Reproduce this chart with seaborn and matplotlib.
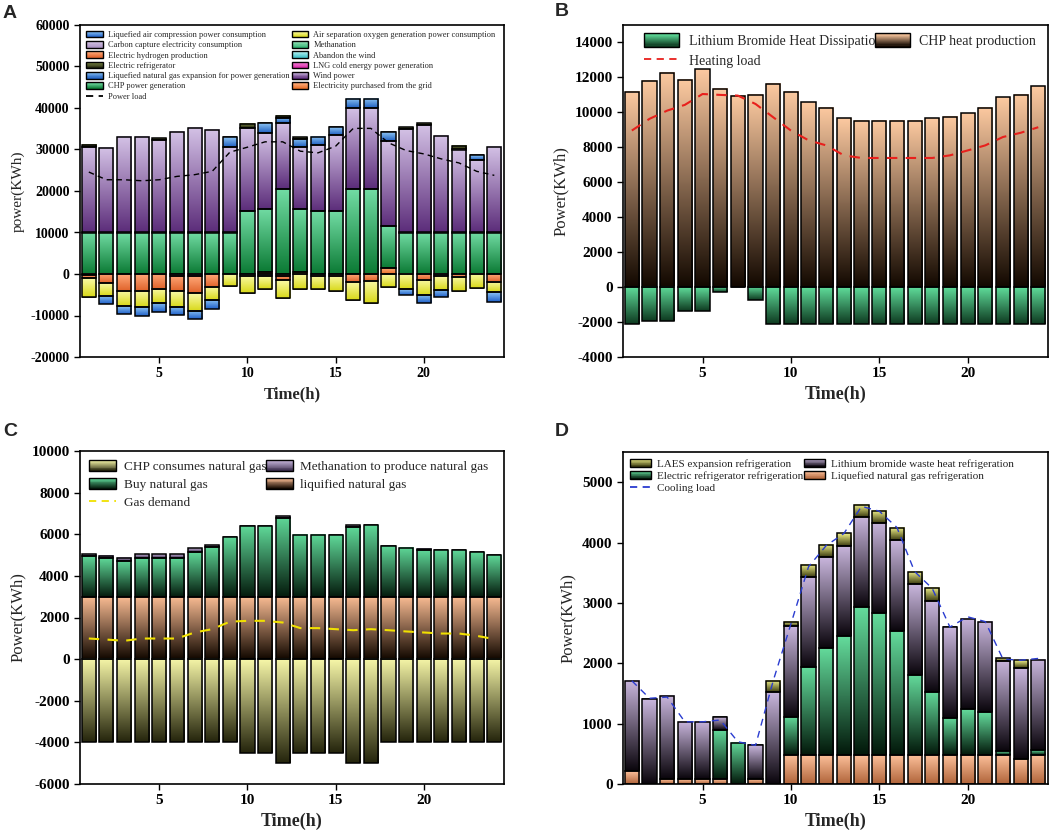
import numpy as np
import matplotlib
matplotlib.use("Agg")
import matplotlib.pyplot as plt
from matplotlib.colors import LinearSegmentedColormap, to_rgb
from matplotlib.patches import Patch, Rectangle
from matplotlib.lines import Line2D
from matplotlib.legend_handler import HandlerBase
import seaborn as sns

hours = np.arange(1, 25)

# ---------- A: electric power balance (kWh) ----------
# positive side, stacked upward
grid_buy = [0, 0, 0, 0, 0, 0, 0, 0, 0, 0, 500, 0, 500, 0, 0, 0, 0, 1500, 0, 0, 0, 0, 0, 0]
chp_power = [10000, 10000, 10000, 10000, 10000, 10000, 10000, 10000, 10000, 15100, 15200, 20400,
             15200, 15100, 15100, 20400, 20400, 10000, 10000, 10000, 10000, 10000, 10000, 10000]
wind_power = [20500, 20300, 22900, 22900, 22300, 24300, 25200, 24600, 20700, 20000, 18200, 15900,
              15000, 16050, 18400, 19650, 19650, 20600, 24950, 26000, 23170, 20000, 17400, 20700]
lng_expansion = [0, 0, 0, 0, 0, 0, 0, 0, 2200, 0, 2400, 1300, 1950, 1950, 1850, 2180, 2180, 2000,
                 0, 0, 0, 0, 1200, 0]
refrigerator = [500, 0, 0, 0, 400, 0, 0, 0, 0, 1100, 0, 500, 400, 0, 0, 0, 0, 0, 400, 300, 0, 900, 0, 0]
# negative side (consumption magnitudes), stacked downward
carbon_capture = [300, 0, 0, 0, 0, 400, 600, 0, 0, 400, 400, 400, 0, 400, 400, 0, 0, 0, 0, 0, 600, 0, 0, 0]
hydrogen = [700, 2260, 4030, 4030, 3710, 3700, 4000, 3060, 0, 0, 0, 1000, 0, 0, 0, 1850, 1700, 0,
            0, 1450, 0, 650, 0, 1850]
air_separation = [4500, 2980, 3630, 4030, 3390, 3800, 4300, 3230, 2820, 4280, 3100, 4300, 3700, 3300,
                  3700, 4440, 5400, 3060, 3710, 3630, 3300, 3460, 3470, 2590]
air_compression = [0, 2100, 1860, 2100, 2170, 2020, 1940, 2260, 0, 0, 0, 0, 0, 0, 0, 0, 0, 0,
                   1370, 2020, 1750, 0, 0, 2250]
methanation = [0] * 24
abandon_wind = [0] * 24
lng_cold = [0] * 24
power_load = [24570, 22710, 22710, 22470, 22710, 23520, 23930, 24740, 29350, 30560, 31850, 31850,
              29590, 29190, 30800, 35090, 35090, 31610, 29750, 28940, 27730, 26760, 24740, 23770]

# ---------- B: heat balance ----------
chp_heat = [11190, 11800, 12250, 11870, 12460, 11340, 10940, 11000, 11620, 11190, 10580, 10270,
            9670, 9510, 9510, 9510, 9510, 9670, 9740, 9950, 10270, 10860, 11010, 11490]
libr_heat = [2090, 1960, 1960, 1350, 1350, 280, 0, 760, 2090, 2090, 2090, 2090, 2090, 2090, 2090,
             2090, 2090, 2090, 2090, 2090, 2090, 2090, 2090, 2090]
heating_load = [8960, 9630, 10100, 10430, 11050, 11000, 10960, 10480, 9720, 8960, 8400, 8110,
                7540, 7390, 7390, 7390, 7390, 7390, 7540, 7820, 8110, 8590, 8830, 9150]

# ---------- C: gas balance ----------
chp_gas = [4000] * 9 + [4500, 4500, 5000, 4500, 4500, 4500, 5000, 5000] + [4000] * 7
lng_gas = [3000] * 24
buy_gas = [1960, 1860, 1730, 1860, 1860, 1860, 2150, 2410, 2870, 3380, 3380, 3800, 2980, 2980,
           2940, 3350, 3430, 2420, 2360, 2240, 2230, 2230, 2150, 1980]
meth_gas = [80, 100, 150, 180, 180, 180, 180, 80, 0, 0, 0, 80, 0, 0, 0, 80, 0, 0, 0, 70, 0, 0, 0, 0]
gas_demand = [990, 940, 880, 990, 990, 990, 1280, 1440, 1800, 1840, 1840, 1760, 1490, 1490, 1440,
              1390, 1440, 1390, 1330, 1280, 1230, 1230, 1120, 960]

# ---------- D: cooling balance ----------
lng_cool = [210, 0, 80, 80, 80, 80, 0, 80, 0, 480, 480, 480, 480, 480, 480, 480, 480, 480, 480,
            480, 480, 480, 420, 480]
elec_cool = [0, 0, 0, 0, 0, 820, 680, 0, 0, 630, 1450, 1780, 1970, 2450, 2350, 2060, 1330, 1050,
             620, 760, 710, 60, 0, 80]
libr_cool = [1500, 1400, 1380, 950, 950, 210, 0, 560, 1520] + [1500] * 15
laes_cool = [0, 0, 0, 0, 0, 0, 0, 0, 190, 70, 200, 200, 200, 200, 200, 200, 200, 220, 0, 0, 0, 40, 130, 0]
cooling_load = [1710, 1420, 1440, 1030, 1030, 1060, 700, 640, 1710, 2650, 3600, 3950, 4150, 4600,
                4520, 4250, 3520, 3240, 2600, 2770, 2690, 2070, 2050, 2080]


sns.set_style("ticks")
plt.rcParams["font.family"] = ["Liberation Serif", "DejaVu Serif"]
plt.rcParams["axes.unicode_minus"] = False


class GradientHandle(HandlerBase):
    def __init__(self, top, bottom, steps=12):
        super().__init__()
        self.top = np.array(to_rgb(top))
        self.bottom = np.array(to_rgb(bottom))
        self.steps = steps

    def create_artists(self, legend, orig_handle, xdescent, ydescent, width, height, fontsize, trans):
        arts = []
        for i in range(self.steps):
            c = self.bottom + (self.top - self.bottom) * i / (self.steps - 1)
            y = -ydescent + height * i / self.steps
            arts.append(Rectangle((-xdescent, y), width, height / self.steps, facecolor=c,
                                  edgecolor="none", transform=trans))
        arts.append(Rectangle((-xdescent, -ydescent), width, height, facecolor="none",
                              edgecolor="black", linewidth=1.0, transform=trans))
        return arts


def shade(ax, bars, top, bottom):
    # vertical gradient inside each bar: light at the top, dark at the bottom
    cmap = LinearSegmentedColormap.from_list("g", [bottom, top])
    grad = np.linspace(0, 1, 128).reshape(-1, 1)
    for p in bars:
        h = p.get_height()
        if h == 0 or np.isnan(h):
            continue
        x0, y0, w = p.get_x(), p.get_y(), p.get_width()
        lo, hi = sorted([y0, y0 + h])
        ax.imshow(grad, extent=(x0, x0 + w, lo, hi), origin="lower", aspect="auto",
                  cmap=cmap, interpolation="bilinear", zorder=1.9)
        p.set_facecolor("none")
        p.set_zorder(2)


def draw_stack(ax, layers, sign=1):
    base = np.zeros(len(hours))
    for vals, top, bottom in layers:
        h = sign * np.asarray(vals, dtype=float)
        sns.barplot(x=hours, y=h, bottom=base, native_scale=True, width=0.8, color=top,
                    saturation=1, edgecolor="black", linewidth=1.1, errorbar=None, ax=ax)
        shade(ax, ax.containers[-1], top, bottom)
        base = base + h


def add_legend(ax, entries, fontsize, **kw):
    handles, labels, hmap = [], [], {}
    for e in entries:
        if e[0] == "line":
            _, label, color = e
            h = Line2D([], [], color=color, linestyle=(0, (4, 3)), lw=1.3)
        else:
            label, top, bottom = e
            h = Patch()
            hmap[h] = GradientHandle(top, bottom)
        handles.append(h)
        labels.append(label)
    ax.legend(handles, labels, handler_map=hmap, frameon=False, loc="upper left",
              prop={"size": fontsize}, **kw)


def style_axes(ax, ylim, yticks, ylabel, ticksize, labelsize):
    ax.set_xlim(0.5, 24.55)
    ax.set_ylim(*ylim)
    ax.set_xticks([5, 10, 15, 20])
    ax.set_yticks(yticks)
    ax.tick_params(direction="out", length=4, width=1, labelsize=ticksize, colors="black")
    for lab in ax.get_xticklabels() + ax.get_yticklabels():
        lab.set_fontweight("bold")
    for s in ax.spines.values():
        s.set_visible(True)
        s.set_linewidth(1.2)
        s.set_color("black")
    ax.set_xlabel("Time(h)", fontsize=labelsize + 1, fontweight="bold")
    ax.set_ylabel(ylabel, fontsize=labelsize)


W, H = 1059, 835
fig = plt.figure(figsize=(W / 100, H / 100), dpi=100)


def px_axes(left, top, right, bottom):
    return fig.add_axes([left / W, 1 - bottom / H, (right - left) / W, (bottom - top) / H])


axA = px_axes(80, 25, 504, 357)
axB = px_axes(623, 25, 1048, 357)
axC = px_axes(80, 451, 504, 784)
axD = px_axes(623, 452, 1048, 784)

# colours: (light top, dark bottom)
c_grid = ("#ffb080", "#e8702a")
c_chp = ("#72dca4", "#0b7a34")
c_wind = ("#d4c2e6", "#5c2d7a")
c_lngexp = ("#8cc4f4", "#1f5fc0")
c_refr = ("#8a9a50", "#1a1a08")
c_cc = ("#d8c8e8", "#a890c0")
c_h2 = ("#ffa878", "#e0622a")
c_air = ("#fafaa8", "#d8d818")
c_comp = ("#8cc4f4", "#2060c8")
c_meth = ("#a0e8c0", "#30b070")
c_aband = ("#b0f0f0", "#40c0c8")
c_cold = ("#ff90e0", "#d020a0")

# ----- A -----
draw_stack(axA, [(grid_buy, *c_grid), (chp_power, *c_chp), (wind_power, *c_wind),
                 (lng_expansion, *c_lngexp), (refrigerator, *c_refr)], sign=1)
draw_stack(axA, [(carbon_capture, *c_cc), (hydrogen, *c_h2), (air_separation, *c_air),
                 (air_compression, *c_comp)], sign=-1)
sns.lineplot(x=hours, y=power_load, ax=axA, color="black", linestyle=(0, (4, 3)), linewidth=1, zorder=6)
style_axes(axA, (-20000, 60000), range(-20000, 60001, 10000), "power(KWh)", 10, 11)
add_legend(axA, [
    ("Liquefied air compression power consumption", *c_comp),
    ("Carbon capture electricity consumption", *c_cc),
    ("Electric hydrogen production", *c_h2),
    ("Electric refrigerator", *c_refr),
    ("Liquefied natural gas expansion for power generation", *c_lngexp),
    ("CHP power generation", *c_chp),
    ("line", "Power load", "black"),
    ("Air separation oxygen generation power consumption", *c_air),
    ("Methanation", *c_meth),
    ("Abandon the wind", *c_aband),
    ("LNG cold energy power generation", *c_cold),
    ("Wind power", *c_wind),
    ("Electricity purchased from the grid", *c_grid),
], 6, ncol=2, bbox_to_anchor=(0.0, 1.0), borderaxespad=0.3, handlelength=2.0, handleheight=0.85,
    handletextpad=0.6, labelspacing=0.25, columnspacing=0.3)

# ----- B -----
c_chpheat = ("#fcc9a0", "#120800")
c_librheat = ("#5fdc9a", "#0e3a20")
draw_stack(axB, [(chp_heat, *c_chpheat)], sign=1)
draw_stack(axB, [(libr_heat, *c_librheat)], sign=-1)
sns.lineplot(x=hours, y=heating_load, ax=axB, color="#e8201c", linestyle=(0, (5, 4)), linewidth=1.5, zorder=6)
style_axes(axB, (-4000, 15000), range(-4000, 14001, 2000), "Power(KWh)", 11, 12)
add_legend(axB, [
    ("Lithium Bromide Heat Dissipation", *c_librheat),
    ("line", "Heating load", "#e8201c"),
    ("CHP heat production", *c_chpheat),
], 10, ncol=2, bbox_to_anchor=(0.03, 1.0), borderaxespad=0.2, handlelength=2.5, handleheight=1.1,
    handletextpad=0.7, labelspacing=0.4, columnspacing=-0.5)

# ----- C -----
c_chpgas = ("#f7f7a8", "#24240c")
c_lnggas = ("#fbbd94", "#120800")
c_buygas = ("#5fd898", "#041a0c")
c_methgas = ("#c8b6dc", "#3a2c4c")
draw_stack(axC, [(lng_gas, *c_lnggas), (buy_gas, *c_buygas), (meth_gas, *c_methgas)], sign=1)
draw_stack(axC, [(chp_gas, *c_chpgas)], sign=-1)
sns.lineplot(x=hours, y=gas_demand, ax=axC, color="#f0e000", linestyle=(0, (5, 4)), linewidth=1.5, zorder=6)
style_axes(axC, (-6000, 10000), range(-6000, 10001, 2000), "Power(KWh)", 11, 12)
add_legend(axC, [
    ("CHP consumes natural gas", *c_chpgas),
    ("Buy natural gas", *c_buygas),
    ("line", "Gas demand", "#f0e000"),
    ("Methanation to produce natural gas", *c_methgas),
    ("liquified natural gas", *c_lnggas),
], 9.5, ncol=2, bbox_to_anchor=(0.0, 1.0), borderaxespad=0.3, handlelength=2.0, handleheight=0.9,
    handletextpad=0.6, labelspacing=0.35, columnspacing=0.0)

# ----- D -----
c_lngcool = ("#fcc09a", "#b0643a")
c_eleccool = ("#64dc9c", "#02180a")
c_librcool = ("#c9b6dd", "#0a050c")
c_laescool = ("#f4f48c", "#3c3c10")
draw_stack(axD, [(lng_cool, *c_lngcool), (elec_cool, *c_eleccool), (libr_cool, *c_librcool),
                 (laes_cool, *c_laescool)], sign=1)
sns.lineplot(x=hours, y=cooling_load, ax=axD, color="#2a3cd0", linestyle=(0, (5, 4)), linewidth=1, zorder=6)
style_axes(axD, (0, 5500), range(0, 5001, 1000), "Power(KWh)", 11, 12)
add_legend(axD, [
    ("LAES expansion refrigeration", *c_laescool),
    ("Electric refrigerator refrigeration", *c_eleccool),
    ("line", "Cooling load", "#2a3cd0"),
    ("Lithium bromide waste heat refrigeration", *c_librcool),
    ("Liquefied natural gas refrigeration", *c_lngcool),
], 8, ncol=2, bbox_to_anchor=(0.0, 1.0), borderaxespad=0.2, handlelength=1.9, handleheight=0.75,
    handletextpad=0.6, labelspacing=0.2, columnspacing=0.0)

for lbl, x, y in [("A", 3, 5), ("B", 555, 3), ("C", 3, 423), ("D", 555, 423)]:
    fig.text(x / W, 1 - y / H, lbl, fontsize=14, fontweight="bold", family="Liberation Sans",
             ha="left", va="top")

fig.savefig("out.png", dpi=100)
